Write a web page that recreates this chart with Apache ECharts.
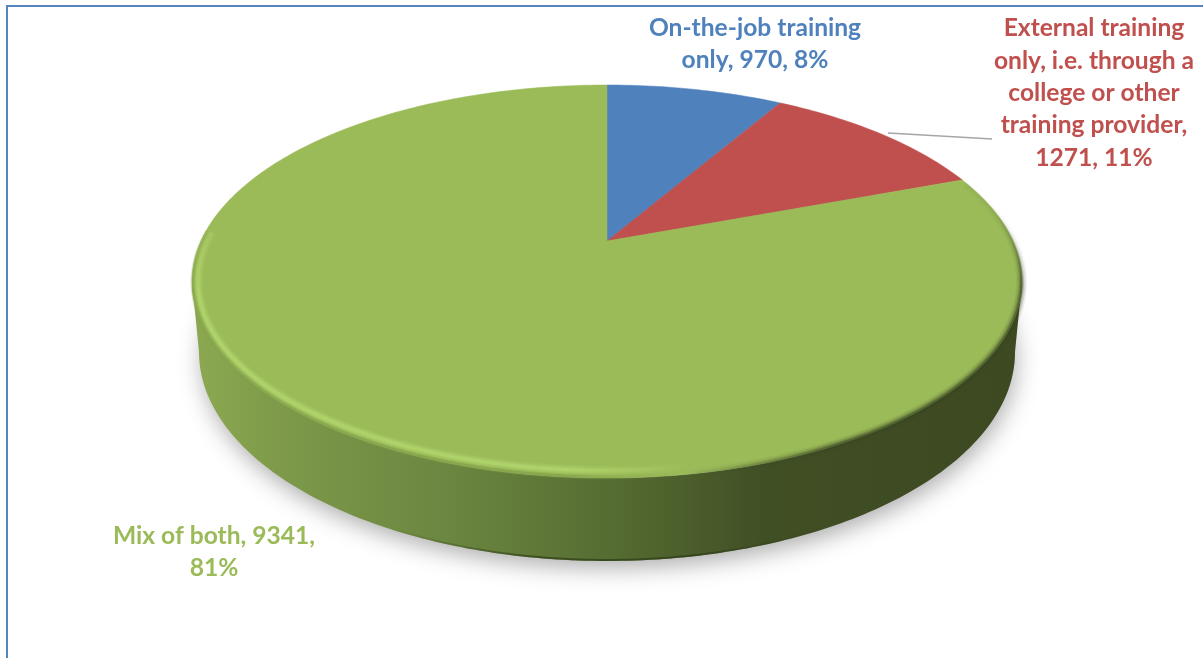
<!DOCTYPE html>
<html>
<head>
<meta charset="utf-8">
<style>html,body{margin:0;padding:0;background:#fff}#c{width:1203px;height:658px}</style>
<script src="https://cdn.jsdelivr.net/npm/echarts@6/dist/echarts.min.js"></script>
</head>
<body>
<div id="c"></div>
<script>
const categories = ['On-the-job training only', 'External training only, i.e. through a college or other training provider', 'Mix of both'];
const values = [970, 1271, 9341];
const labelLines = [
  ['On-the-job training', 'only, 970, 8%'],
  ['External training', 'only, i.e. through a', 'college or other', 'training provider,', '1271, 11%'],
  ['Mix of both, 9341,', '81%']
];
const colors = ['#4F81BD', '#C0504D', '#9BBB59'];

const total = values.reduce((a, b) => a + b, 0);
// Geometry of the tilted disc
const CX = 607, CY = 281.5, RX = 415, RY = 196.5, TILT = 0.206;
const LOW = { cx: 607, cy: 352, rx: 408, ry: 209 };
const labelPos = [[755, 44], [1094, 93], [214, 552]];
const leader = [[888, 133], [975, 138], [992, 139]];

function project(frac) {
  const a = 2 * Math.PI * frac, u = Math.sin(a), v = Math.cos(a), d = 1 + TILT * v;
  return [CX + RX * u * Math.sqrt(1 - TILT * TILT) / d, CY - RY * (v + TILT) / d];
}
function arc(cx, cy, rx, ry, from, to) {
  const pts = [], n = Math.ceil(Math.abs(to - from));
  for (let i = 0; i <= n; i++) {
    const a = (from + (to - from) * i / n) * Math.PI / 180;
    pts.push([cx + rx * Math.sin(a), cy - ry * Math.cos(a)]);
  }
  return pts;
}
function linear(x, y, x2, y2, stops) {
  return { type: 'linear', x, y, x2, y2, global: true,
    colorStops: stops.map(s => ({ offset: s[0], color: s[1] })) };
}
function line(points, stroke, width) {
  return { type: 'polyline', shape: { points }, style: { fill: null, stroke, lineWidth: width, lineCap: 'butt', lineJoin: 'round' } };
}

// Shadow + side wall
function renderBase() {
  const wall = [].concat(arc(CX, CY, RX, RY, 90, 270), arc(LOW.cx, LOW.cy, LOW.rx, LOW.ry, 270, 90));
  const wallFill = linear(192, 0, 1022, 0, [
    [0, '#8CA951'], [0.12, '#7C9849'], [0.31, '#6B8640'], [0.5, '#566D32'],
    [0.69, '#414F25'], [1, '#3C4921']]);
  return { type: 'group', children: [
    { type: 'polygon', shape: { points: arc(LOW.cx + 2, LOW.cy, LOW.rx - 2, LOW.ry - 3, 0, 360) },
      style: { fill: '#bbb', shadowBlur: 24, shadowOffsetX: 0, shadowOffsetY: 9, shadowColor: 'rgba(0,0,0,0.34)' } },
    { type: 'polygon', shape: { points: wall }, style: { fill: wallFill } },
    line(arc(LOW.cx, LOW.cy - 1, LOW.rx, LOW.ry, 135, 225), linear(390, 0, 830, 0,
      [[0, 'rgba(45,60,22,0)'], [0.35, 'rgba(45,60,22,0.7)'], [0.7, 'rgba(45,60,22,0.7)'], [1, 'rgba(45,60,22,0)']]), 2)
  ] };
}

// One slice per data item
function renderSlice(params, api) {
  const i = params.dataIndex;
  const value = api.value(0);
  let before = 0;
  for (let k = 0; k < i; k++) before += values[k];
  const pts = [[CX, CY - RY * TILT]];
  const n = Math.max(2, Math.ceil(value / total * 360));
  for (let s = 0; s <= n; s++) pts.push(project((before + value * s / n) / total));
  return { type: 'polygon', shape: { points: pts }, style: { fill: colors[i], stroke: colors[i], lineWidth: 0.5 } };
}

// Bevel around the edge of the top face
function renderRim() {
  const fadeLight = a => linear(190, 215, 490, 615, [
    [0, 'rgba(190,228,120,0)'], [0.13, 'rgba(190,228,120,' + a + ')'],
    [0.86, 'rgba(190,228,120,' + a + ')'], [1, 'rgba(190,228,120,0)']]);
  const fadeDark = a => linear(960, 175, 690, 480, [
    [0, 'rgba(52,64,30,0)'], [0.1, 'rgba(52,64,30,' + a + ')'],
    [0.7, 'rgba(52,64,30,' + a + ')'], [1, 'rgba(52,64,30,0)']]);
  const fadeOuter = a => linear(190, 215, 490, 615, [
    [0, 'rgba(120,150,66,0)'], [0.13, 'rgba(120,150,66,' + a + ')'], [0.86, 'rgba(120,150,66,' + a + ')'], [1, 'rgba(120,150,66,0)']]);
  const hi = arc(CX, CY, RX - 6, RY - 7.5, 285, 150);
  const edge = arc(CX, CY, RX - 1, RY - 1, 285, 150);
  const dark = arc(CX, CY, RX - 0.5, RY - 0.5, 60, 178);
  const layer = (pts, fade, list) => list.map(l => line(pts, fade(l[1]), l[0]));
  return { type: 'group', children: [].concat(
    layer(edge, fadeOuter, [[5, 0.25], [3, 0.35]]),
    layer(hi, fadeLight, [[10, 0.1], [7.5, 0.14], [5, 0.2], [3, 0.28]]),
    layer(dark, fadeDark, [[11, 0.08], [8, 0.14], [5, 0.25], [2.5, 0.45]])
  ) };
}

// Data labels and the leader line
function renderLabel(params) {
  const i = params.dataIndex;
  const children = [{ type: 'text', style: {
    text: labelLines[i].join('\n'), x: labelPos[i][0], y: labelPos[i][1],
    fill: colors[i], fontFamily: 'Lato', fontWeight: 'bold', fontSize: 24.6, lineHeight: 32.4,
    align: 'center', verticalAlign: 'middle'
  } }];
  if (i === 1) children.push(line(leader, '#A6A6A6', 1.5));
  return { type: 'group', children };
}

const data = values.map(v => [v]);
const chart = echarts.init(document.getElementById('c'), null, { renderer: 'canvas' });
chart.setOption({
  animation: false,
  backgroundColor: '#ffffff',
  tooltip: { show: false },
  graphic: [{ type: 'polyline', silent: true, shape: { points: [[7, 658], [7, 6], [1203, 6]] },
    style: { fill: null, stroke: '#5585C0', lineWidth: 2 } }],
  series: [
    { type: 'custom', coordinateSystem: 'none', silent: true, z: 1, data: [[total]], renderItem: renderBase },
    { type: 'custom', coordinateSystem: 'none', silent: true, z: 2, name: 'Training', data: data.map((d, i) => ({ name: categories[i], value: d })), renderItem: renderSlice },
    { type: 'custom', coordinateSystem: 'none', silent: true, z: 3, data: [[total]], renderItem: renderRim },
    { type: 'custom', coordinateSystem: 'none', silent: true, z: 4, data: data, renderItem: renderLabel }
  ]
});
</script>
</body>
</html>
